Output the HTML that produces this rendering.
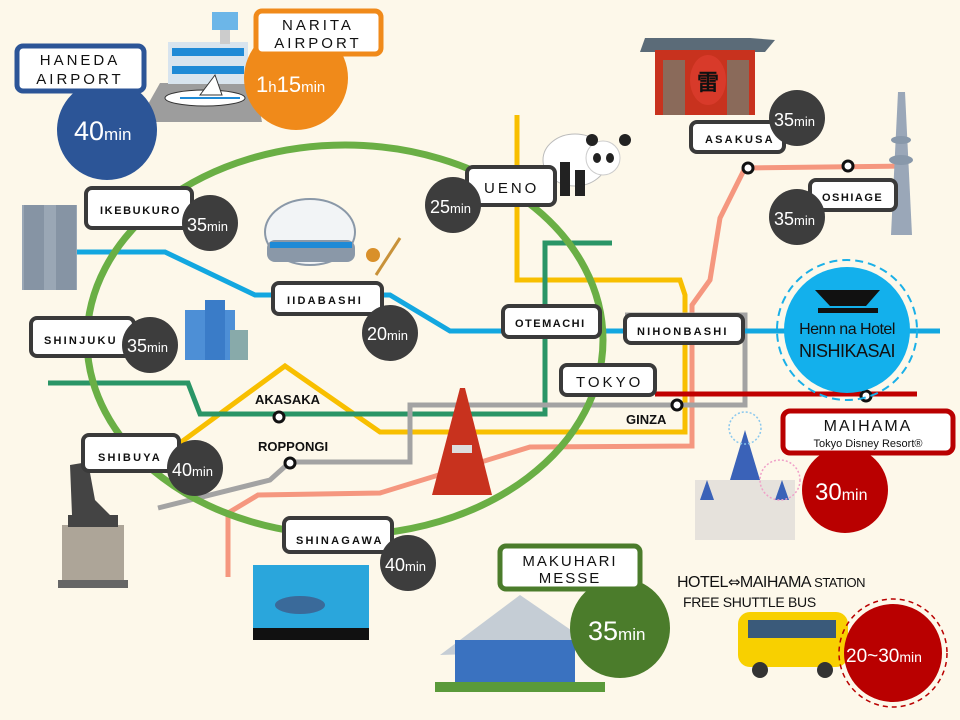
<!DOCTYPE html>
<html><head><meta charset="utf-8"><style>
html,body{margin:0;padding:0;background:#fdf8ea;}
svg{display:block}
text{font-family:"Liberation Sans",sans-serif;}
.lb{font-size:11px;font-weight:bold;letter-spacing:2.2px;fill:#111}
.tm{font-size:20px;fill:#fff}
.tm tspan{font-size:13px}
</style></head><body>
<svg width="960" height="720" viewBox="0 0 960 720" xmlns="http://www.w3.org/2000/svg">
<rect width="960" height="720" fill="#fdf8ea"/>
<g fill="none" stroke-linejoin="miter">
<polyline points="228,577 228,513 258,495 380,493 530,447 692,446 692,305 710,280 720,218 745,168 908,166" stroke="#f5977f" stroke-width="5"/>
<polyline points="517,115 517,280 680,280 685,295 685,432 380,432 285,366 180,443" stroke="#f8bf00" stroke-width="5"/>
<polyline points="48,383 188,383 200,414 545,414 545,243 612,243" stroke="#2a9566" stroke-width="5"/>
<polyline points="158,508 270,480 290,462 410,462 410,405 745,405 745,315 625,315" stroke="#a3a3a3" stroke-width="5"/>
<polyline points="75,252 165,252 255,295 390,295 450,331 940,331" stroke="#13a7e0" stroke-width="5"/>
<line x1="655" y1="394" x2="917" y2="394" stroke="#c00000" stroke-width="5"/>
<ellipse cx="345" cy="340" rx="258" ry="195" stroke="#6aaf45" stroke-width="7"/>
</g>
<g fill="#fff" stroke="#111" stroke-width="3">
<circle cx="279" cy="417" r="5"/><circle cx="290" cy="463" r="5"/><circle cx="677" cy="405" r="5"/>
<circle cx="866" cy="396" r="5"/><circle cx="748" cy="168" r="5"/><circle cx="848" cy="166" r="5"/>
</g>
<g font-weight="bold" font-size="13" fill="#111">
<text x="255" y="404">AKASAKA</text><text x="258" y="451">ROPPONGI</text><text x="626" y="424">GINZA</text>
</g>
<!-- airport -->
<polygon points="160,83 255,83 262,122 138,122" fill="#9d9d9d"/>
<rect x="168" y="42" width="80" height="42" fill="#d8e4ee"/>
<rect x="172" y="48" width="72" height="8" fill="#1f8ad6"/><rect x="172" y="66" width="72" height="8" fill="#1f8ad6"/>
<rect x="212" y="12" width="26" height="18" fill="#6cb6e8"/><rect x="220" y="30" width="10" height="14" fill="#ccc"/>
<ellipse cx="205" cy="98" rx="40" ry="8" fill="#fff" stroke="#333"/><polygon points="200,95 215,75 222,95" fill="#fff" stroke="#333"/>
<line x1="180" y1="98" x2="240" y2="98" stroke="#1f8ad6" stroke-width="2"/>
<!-- tokyo gov -->
<rect x="22" y="205" width="55" height="85" fill="#9aa7b5"/><rect x="24" y="205" width="20" height="85" fill="#8694a4"/><rect x="56" y="205" width="20" height="85" fill="#8694a4"/>
<!-- shinjuku -->
<rect x="185" y="310" width="50" height="50" fill="#4d8fd6"/><rect x="205" y="300" width="20" height="60" fill="#3a7cc8"/><rect x="230" y="330" width="18" height="30" fill="#8aa"/>
<!-- dome -->
<ellipse cx="310" cy="232" rx="45" ry="33" fill="#f2f4f6" stroke="#8a98a8" stroke-width="2"/>
<rect x="267" y="240" width="88" height="22" rx="8" fill="#8a98a8"/><rect x="270" y="242" width="82" height="6" fill="#1f8ad6"/>
<circle cx="373" cy="255" r="7" fill="#d9902a"/><line x1="376" y1="275" x2="400" y2="238" stroke="#c8923a" stroke-width="3"/>
<!-- panda -->
<ellipse cx="575" cy="160" rx="32" ry="26" fill="#fff" stroke="#bbb"/><rect x="560" y="162" width="10" height="34" fill="#222"/><rect x="575" y="170" width="10" height="26" fill="#222"/>
<circle cx="603" cy="158" r="17" fill="#fff" stroke="#ccc"/><circle cx="592" cy="140" r="6" fill="#222"/><circle cx="625" cy="140" r="6" fill="#222"/>
<ellipse cx="597" cy="158" rx="4" ry="5" fill="#222"/><ellipse cx="610" cy="158" rx="4" ry="5" fill="#222"/>
<!-- kaminarimon -->
<polygon points="645,38 750,38 775,40 765,52 640,52" fill="#5b6b78"/>
<rect x="655" y="50" width="100" height="65" fill="#c8321e"/><rect x="663" y="60" width="22" height="55" fill="#8a6a5a"/><rect x="727" y="60" width="22" height="55" fill="#8a6a5a"/>
<ellipse cx="708" cy="80" rx="18" ry="25" fill="#d83a2a"/><text x="708" y="90" text-anchor="middle" font-size="22" font-weight="bold" fill="#111" font-family="Noto Sans CJK JP,sans-serif">雷</text>
<!-- skytree -->
<polygon points="898,92 905,92 912,235 891,235" fill="#9aa7b8"/><ellipse cx="901" cy="140" rx="10" ry="4" fill="#8898aa"/><ellipse cx="901" cy="160" rx="12" ry="5" fill="#8898aa"/>
<!-- tokyo tower -->
<polygon points="460,388 465,388 492,495 432,495" fill="#c8321e"/><rect x="452" y="445" width="20" height="8" fill="#ddd"/>
<!-- hachiko -->
<rect x="62" y="525" width="62" height="60" fill="#ada598"/><rect x="58" y="580" width="70" height="8" fill="#666"/>
<rect x="68" y="515" width="50" height="12" fill="#444"/><path d="M70,465 L88,462 95,500 110,515 72,515 Z" fill="#444"/>
<!-- aquarium -->
<rect x="253" y="565" width="116" height="75" fill="#2aa6dc"/><rect x="253" y="628" width="116" height="12" fill="#111"/>
<ellipse cx="300" cy="605" rx="25" ry="9" fill="#3a6a9a"/>
<!-- castle -->
<rect x="695" y="480" width="100" height="60" fill="#e6e2dc"/><polygon points="730,480 745,430 760,480" fill="#3a62b8"/><polygon points="700,500 707,480 714,500" fill="#3a62b8"/><polygon points="775,500 782,480 789,500" fill="#3a62b8"/>
<circle cx="745" cy="428" r="16" fill="none" stroke="#8ac8ee" stroke-width="1.5" stroke-dasharray="2,2"/>
<circle cx="780" cy="480" r="20" fill="none" stroke="#f0a0c8" stroke-width="1.5" stroke-dasharray="2,2"/>
<!-- makuhari -->
<polygon points="440,655 520,595 600,650" fill="#c5cdd5"/><rect x="455" y="640" width="120" height="45" fill="#3a72c0"/><rect x="435" y="682" width="170" height="10" fill="#5a9a3a"/>
<!-- bus -->
<rect x="738" y="612" width="110" height="55" rx="12" fill="#f8d000"/><rect x="748" y="620" width="88" height="18" fill="#3a5a7a"/>
<circle cx="760" cy="670" r="8" fill="#333"/><circle cx="825" cy="670" r="8" fill="#333"/>
<!-- hotel -->
<circle cx="847" cy="330" r="70" fill="none" stroke="#1ab0e8" stroke-width="2" stroke-dasharray="8,5"/>
<circle cx="847" cy="330" r="63" fill="#13b0ec"/>
<path d="M815,290 L880,290 L866,306 L830,306 Z" fill="#111"/><rect x="818" y="308" width="60" height="5" fill="#111"/>
<text x="847" y="334" text-anchor="middle" font-size="16" letter-spacing="-0.5" fill="#111">Henn na Hotel</text>
<text x="847" y="357" text-anchor="middle" font-size="18" letter-spacing="-0.5" fill="#111">NISHIKASAI</text>
<!-- big circles -->
<circle cx="107" cy="130" r="50" fill="#2c5597"/>
<text x="74" y="140" class="tm" style="font-size:27px">40<tspan style="font-size:17px">min</tspan></text>
<circle cx="296" cy="78" r="52" fill="#f08a1a"/>
<text x="256" y="92" class="tm" style="font-size:22px">1<tspan style="font-size:15px">h</tspan>15<tspan style="font-size:15px">min</tspan></text>
<circle cx="620" cy="628" r="50" fill="#4b7c2b"/>
<text x="588" y="640" class="tm" style="font-size:27px">35<tspan style="font-size:17px">min</tspan></text>
<circle cx="845" cy="490" r="43" fill="#b90000"/>
<text x="815" y="500" class="tm" style="font-size:24px">30<tspan style="font-size:16px">min</tspan></text>
<circle cx="893" cy="653" r="54" fill="none" stroke="#b90000" stroke-width="1.5" stroke-dasharray="5,4"/>
<circle cx="893" cy="653" r="49" fill="#b90000"/>
<text x="846" y="662" class="tm" style="font-size:19px">20~30<tspan style="font-size:14px">min</tspan></text>
<!-- airport boxes -->
<rect x="17" y="46" width="127" height="45" rx="6" fill="#fff" stroke="#2c5597" stroke-width="5"/>
<text x="80" y="65" text-anchor="middle" font-size="15" letter-spacing="3" fill="#111">HANEDA</text>
<text x="80" y="84" text-anchor="middle" font-size="15" letter-spacing="3" fill="#111">AIRPORT</text>
<rect x="256" y="11" width="125" height="43" rx="6" fill="#fff" stroke="#f08a1a" stroke-width="5"/>
<text x="318" y="30" text-anchor="middle" font-size="15" letter-spacing="3" fill="#111">NARITA</text>
<text x="318" y="48" text-anchor="middle" font-size="15" letter-spacing="3" fill="#111">AIRPORT</text>
<rect x="500" y="546" width="140" height="43" rx="6" fill="#fff" stroke="#4b7c2b" stroke-width="5"/>
<text x="570" y="566" text-anchor="middle" font-size="15" letter-spacing="2" fill="#111">MAKUHARI</text>
<text x="570" y="583" text-anchor="middle" font-size="15" letter-spacing="2" fill="#111">MESSE</text>
<rect x="783" y="411" width="170" height="42" rx="7" fill="#fff" stroke="#b90000" stroke-width="5"/>
<text x="868" y="431" text-anchor="middle" font-size="16" letter-spacing="2" fill="#111">MAIHAMA</text>
<text x="868" y="447" text-anchor="middle" font-size="11" fill="#111">Tokyo Disney Resort®</text>
<g fill="#fff" stroke="#3a3a3a" stroke-width="4">
<rect x="86" y="188" width="106" height="40" rx="6"/>
<rect x="467" y="167" width="88" height="38" rx="6"/>
<rect x="273" y="283" width="109" height="31" rx="6"/>
<rect x="31" y="318" width="103" height="38" rx="6"/>
<rect x="503" y="306" width="97" height="31" rx="6"/>
<rect x="625" y="315" width="118" height="28" rx="6"/>
<rect x="561" y="365" width="94" height="30" rx="6"/>
<rect x="691" y="122" width="93" height="30" rx="6"/>
<rect x="810" y="180" width="86" height="30" rx="6"/>
<rect x="83" y="435" width="96" height="36" rx="6"/>
<rect x="284" y="518" width="108" height="34" rx="6"/>
</g>
<text x="100" y="214" class="lb" style="letter-spacing:1.6px">IKEBUKURO</text>
<text x="484" y="193" font-size="15" letter-spacing="3" fill="#111">UENO</text>
<text x="287" y="304" class="lb">IIDABASHI</text>
<text x="44" y="344" class="lb">SHINJUKU</text>
<text x="515" y="327" class="lb" style="letter-spacing:1.5px">OTEMACHI</text>
<text x="637" y="335" class="lb">NIHONBASHI</text>
<text x="576" y="387" font-size="15" letter-spacing="3" fill="#111">TOKYO</text>
<text x="705" y="143" class="lb">ASAKUSA</text>
<text x="822" y="201" class="lb" style="letter-spacing:1.5px">OSHIAGE</text>
<text x="98" y="461" class="lb">SHIBUYA</text>
<text x="296" y="544" class="lb">SHINAGAWA</text>
<g fill="#3d3d3d">
<circle cx="210" cy="223" r="28"/><circle cx="453" cy="205" r="28"/><circle cx="390" cy="333" r="28"/>
<circle cx="150" cy="345" r="28"/><circle cx="797" cy="118" r="28"/><circle cx="797" cy="217" r="28"/>
<circle cx="195" cy="468" r="28"/><circle cx="408" cy="563" r="28"/>
</g>
<text x="187" y="231" class="tm" style="font-size:18px">35<tspan>min</tspan></text>
<text x="430" y="213" class="tm" style="font-size:18px">25<tspan>min</tspan></text>
<text x="367" y="340" class="tm" style="font-size:18px">20<tspan>min</tspan></text>
<text x="127" y="352" class="tm" style="font-size:18px">35<tspan>min</tspan></text>
<text x="774" y="126" class="tm" style="font-size:18px">35<tspan>min</tspan></text>
<text x="774" y="225" class="tm" style="font-size:18px">35<tspan>min</tspan></text>
<text x="172" y="476" class="tm" style="font-size:18px">40<tspan>min</tspan></text>
<text x="385" y="571" class="tm" style="font-size:18px">40<tspan>min</tspan></text>
<text x="677" y="587" font-size="16" letter-spacing="-0.5" fill="#111">HOTEL<tspan font-family="DejaVu Sans" font-size="15">⇔</tspan>MAIHAMA <tspan font-size="13">STATION</tspan></text>
<text x="683" y="607" font-size="14" letter-spacing="-0.3" fill="#111">FREE SHUTTLE BUS</text>
</svg>
</body></html>
